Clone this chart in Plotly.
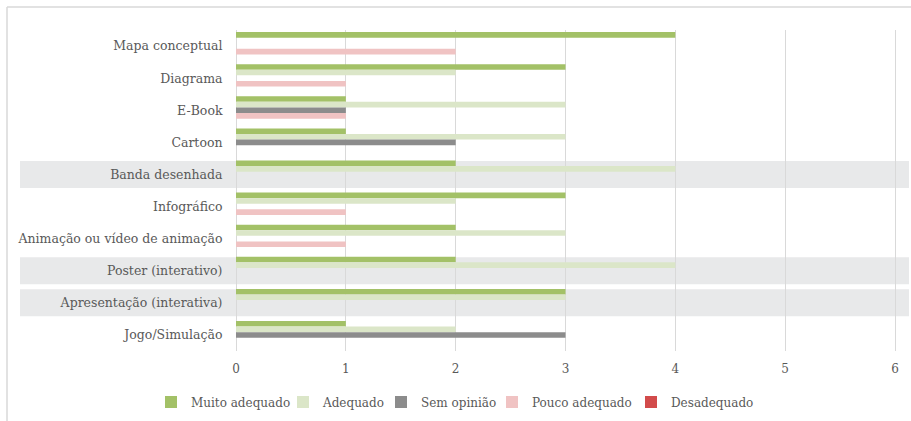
import plotly.graph_objects as go

categories = ["Mapa conceptual", "Diagrama", "E-Book", "Cartoon", "Banda desenhada",
              "Infográfico", "Animação ou vídeo de animação", "Poster (interativo)",
              "Apresentação (interativa)", "Jogo/Simulação"]
muito_adequado = [4, 3, 1, 1, 2, 3, 2, 2, 3, 1]
adequado       = [0, 2, 3, 3, 4, 2, 3, 4, 3, 2]
sem_opiniao    = [0, 0, 1, 2, 0, 0, 0, 0, 0, 3]
pouco_adequado = [2, 1, 1, 0, 0, 1, 1, 0, 0, 0]
desadequado    = [0, 0, 0, 0, 0, 0, 0, 0, 0, 0]
highlighted = ["Banda desenhada", "Poster (interativo)", "Apresentação (interativa)"]

series = [
    ("Muito adequado", muito_adequado, "#a3c167", 87),
    ("Adequado", adequado, "#dbe6c8", 53),
    ("Sem opinião", sem_opiniao, "#8c8c8c", 66),
    ("Pouco adequado", pouco_adequado, "#f0c3c3", 94),
    ("Desadequado", desadequado, "#d24b4b", 82),
]

FONT = "DejaVu Serif"
TXT = "#595959"

fig = go.Figure()
for name, vals, col, lw in series:
    fig.add_trace(go.Bar(y=categories, x=vals, name=name, orientation="h",
                         legendwidth=lw,
                         marker=dict(color=col, line=dict(width=0))))

W, H = 911, 421
L, R, T, B = 236, 5, 30, 70
pw, ph = W - L - R, H - T - B

shapes = []
for c in highlighted:
    i = categories.index(c)
    shapes.append(dict(type="rect", xref="paper", yref="y", layer="below",
                       x0=(20 - L) / pw, x1=(909 - L) / pw,
                       y0=i - 0.42, y1=i + 0.42,
                       fillcolor="#e8e9ea", line=dict(width=0)))
# outer chart border (top and left)
shapes.append(dict(type="line", xref="paper", yref="paper",
                   x0=(7 - L) / pw, x1=(W + 5 - L) / pw,
                   y0=(H - B - 7) / ph, y1=(H - B - 7) / ph,
                   line=dict(color="#d9d9d9", width=1.5)))
shapes.append(dict(type="line", xref="paper", yref="paper",
                   x0=(7 - L) / pw, x1=(7 - L) / pw,
                   y0=(H - B - 7) / ph, y1=-0.3,
                   line=dict(color="#d9d9d9", width=1.5)))

fig.update_layout(
    width=W, height=H,
    margin=dict(l=L, r=R, t=T, b=B),
    paper_bgcolor="white", plot_bgcolor="rgba(0,0,0,0)",
    barmode="group", bargap=0.13, bargroupgap=0,
    font=dict(family=FONT, size=12, color=TXT),
    shapes=shapes,
    xaxis=dict(range=[0, 6.1], dtick=1, tick0=0, showgrid=True,
               gridcolor="#d9d9d9", gridwidth=1, zeroline=True,
               zerolinecolor="#d9d9d9", zerolinewidth=1, showline=False,
               ticks="outside", ticklen=7, tickcolor="rgba(0,0,0,0)",
               tickfont=dict(family=FONT, size=12, color=TXT)),
    yaxis=dict(categoryorder="array", categoryarray=categories,
               autorange="reversed", showgrid=False, zeroline=False,
               ticks="outside", ticklen=10, tickcolor="rgba(0,0,0,0)",
               tickfont=dict(family=FONT, size=12.5, color=TXT)),
    legend=dict(orientation="h", x=(151 - L) / pw, xanchor="left",
                y=(H - B - 402) / ph, yanchor="middle",
                font=dict(family=FONT, size=12, color=TXT),
                itemwidth=30, tracegroupgap=0, traceorder="normal",
                bgcolor="rgba(0,0,0,0)"),
)

fig.write_html("out.html")
